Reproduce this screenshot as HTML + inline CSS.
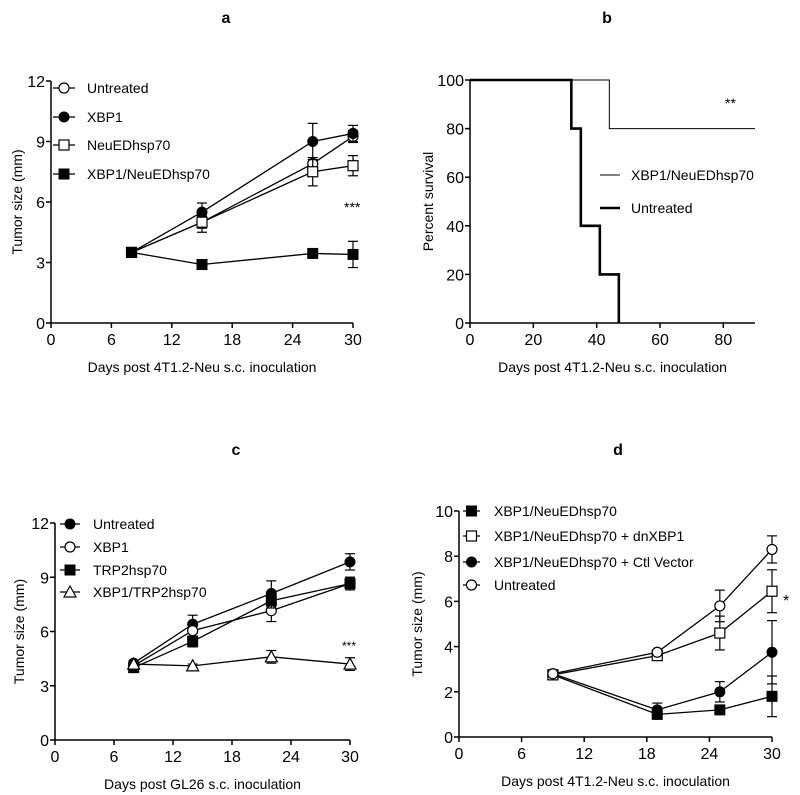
<!DOCTYPE html>
<html><head><meta charset="utf-8"><style>
body{margin:0;background:#fff}
svg{display:block;font-family:"Liberation Sans",Arial,sans-serif}
</style></head><body>
<svg id="fig" width="800" height="795" viewBox="0 0 800 795"></svg>
<script>
// Panel a
const aDays=[8,15,26,30];
const aUntreated=[3.5,5.0,7.9,9.25];
const aUntreatedErr=[0.2,0.3,0.3,0.3];
const aXbp1=[3.5,5.5,9.0,9.4];
const aXbp1Err=[0.2,0.45,0.9,0.4];
const aNeu=[3.5,5.0,7.5,7.8];
const aNeuErr=[0.2,0.5,0.7,0.5];
const aCombo=[3.5,2.9,3.45,3.4];
const aComboErr=[0.2,0.1,0.15,0.65];
const aYTicks=[0,3,6,9,12];
const aXTicks=[0,6,12,18,24,30];
// Panel b
const bTreatedX=[0,44,44,90];
const bTreatedY=[100,100,80,80];
const bUntreatedX=[0,32,32,35,35,41,41,47,47];
const bUntreatedY=[100,100,80,80,40,40,20,20,0];
const bYTicks=[0,20,40,60,80,100];
const bXTicks=[0,20,40,60,80];
// Panel c
const cDays=[8,14,22,30];
const cUntreated=[4.25,6.4,8.1,9.85];
const cUntreatedErr=[0.15,0.5,0.7,0.45];
const cXbp1=[4.1,6.05,7.15,8.65];
const cXbp1Err=[0.15,0.3,0.6,0.35];
const cTrp2=[4.0,5.45,7.7,8.65];
const cTrp2Err=[0.15,0.3,0.4,0.35];
const cCombo=[4.2,4.1,4.6,4.2];
const cComboErr=[0.1,0.1,0.35,0.35];
const cYTicks=[0,3,6,9,12];
const cXTicks=[0,6,12,18,24,30];
// Panel d
const dDays=[9,19,25,30];
const dCombo=[2.75,1.0,1.2,1.8];
const dComboErr=[0.1,0.1,0.1,0.9];
const dDn=[2.75,3.6,4.6,6.45];
const dDnErr=[0.1,0.1,0.75,0.95];
const dCtl=[2.8,1.2,2.0,3.75];
const dCtlErr=[0.1,0.3,0.45,1.4];
const dUntreated=[2.8,3.75,5.8,8.3];
const dUntreatedErr=[0.1,0.1,0.7,0.6];
const dYTicks=[0,2,4,6,8,10];
const dXTicks=[0,6,12,18,24,30];

const NS="http://www.w3.org/2000/svg";
const svg=document.getElementById('fig');
function mk(tag,attrs,parent,text){const e=document.createElementNS(NS,tag);for(const k in attrs)e.setAttribute(k,attrs[k]);if(text!==undefined)e.textContent=text;(parent||svg).appendChild(e);return e;}
function scale(d0,d1,p0,p1){return v=>p0+(v-d0)/(d1-d0)*(p1-p0);}

function axes(g,x,y,xt,yt,xmax,ymax,xlab,ylab,ylabX){
  const x0=x(0),x1=x(xmax),y0=y(0),y1=y(ymax);
  let l=mk('line',{x1:x0,y1:y0,x2:x0,y2:y1,stroke:'#000','stroke-width':1.5},g);
  
  
  l=mk('line',{x1:x0,y1:y0,x2:x1,y2:y0,stroke:'#000','stroke-width':1.5},g);
  
  
  yt.forEach(v=>{mk('line',{x1:x0-5,y1:y(v),x2:x0,y2:y(v),stroke:'#000','stroke-width':1.5},g);
    const t=mk('text',{x:x0-6,y:y(v)+6,'text-anchor':'end','font-size':16},g,v);
    
    });
  xt.forEach(v=>{mk('line',{x1:x(v),y1:y0,x2:x(v),y2:y0+5,stroke:'#000','stroke-width':1.5},g);
    const t=mk('text',{x:x(v),y:y0+22,'text-anchor':'middle','font-size':16},g,v);
    
    });
  let t=mk('text',{x:(x0+x1)/2,y:y0+49,'text-anchor':'middle','font-size':14},g,xlab);
  
  
  const cy=(y0+y1)/2;
  t=mk('text',{x:ylabX,y:cy,'text-anchor':'middle','font-size':14,transform:`rotate(-90 ${ylabX} ${cy})`},g,ylab);
  
  
}
function marker(g,type,cx,cy){
  const r=5;
  if(type==='oc')return mk('circle',{cx,cy,r,fill:'#fff',stroke:'#000','stroke-width':1.2},g);
  if(type==='fc')return mk('circle',{cx,cy,r:5.5,fill:'#000'},g);
  if(type==='os')return mk('rect',{x:cx-5,y:cy-5,width:10,height:10,fill:'#fff',stroke:'#000','stroke-width':1.2},g);
  if(type==='fs')return mk('rect',{x:cx-5.5,y:cy-5.5,width:11,height:11,fill:'#000'},g);
  if(type==='ot')return mk('polygon',{points:`${cx},${cy-6} ${cx-6},${cy+5} ${cx+6},${cy+5}`,fill:'#fff',stroke:'#000','stroke-width':1.2},g);
}
function series(g,name,xs,ys,err,type,x,y){
  const sg=mk('g',{},g);
  
  
  xs.forEach((d,i)=>{const px=x(d),e=err[i];
    mk('line',{x1:px,y1:y(ys[i]-e),x2:px,y2:y(ys[i]+e),stroke:'#000','stroke-width':1.2},sg);
    mk('line',{x1:px-5,y1:y(ys[i]+e),x2:px+5,y2:y(ys[i]+e),stroke:'#000','stroke-width':1.2},sg);
    mk('line',{x1:px-5,y1:y(ys[i]-e),x2:px+5,y2:y(ys[i]-e),stroke:'#000','stroke-width':1.2},sg);});
  mk('polyline',{points:xs.map((d,i)=>x(d)+','+y(ys[i])).join(' '),fill:'none',stroke:'#000','stroke-width':1.3},sg);
  xs.forEach((d,i)=>{const m=marker(sg,type,x(d),y(ys[i]));
    
    });
}
function legend(g,entries,lx0,lx1,tx,ys){
  entries.forEach((en,i)=>{const lg=mk('g',{},g);
    
    
    mk('line',{x1:lx0,y1:ys[i],x2:lx1,y2:ys[i],stroke:'#000','stroke-width':1.3},lg);
    marker(lg,en[1],(lx0+lx1)/2,ys[i]);
    mk('text',{x:tx,y:ys[i]+5,'font-size':14},lg,en[0]);});
}
function title(txt,x,y){const t=mk('text',{x,y,'text-anchor':'middle','font-size':16,'font-weight':'bold'},svg,txt);
  
  }
function note(g,txt,x,y,size){const t=mk('text',{x,y,'font-size':size||14},g,txt);
  
  }

// Panel a
{const g=mk('g',{});
 const x=scale(0,30,51,353),y=scale(0,12,323,81);
 title('a',226,23);
 axes(g,x,y,aXTicks,aYTicks,30,12,'Days post  4T1.2-Neu s.c. inoculation','Tumor size (mm)',22);
 series(g,'untreated-series',aDays,aUntreated,aUntreatedErr,'oc',x,y);
 series(g,'xbp1-series',aDays,aXbp1,aXbp1Err,'fc',x,y);
 series(g,'neuedhsp70-series',aDays,aNeu,aNeuErr,'os',x,y);
 series(g,'xbp1-neuedhsp70-series',aDays,aCombo,aComboErr,'fs',x,y);
 legend(g,[['Untreated','oc'],['XBP1','fc'],['NeuEDhsp70','os'],['XBP1/NeuEDhsp70','fs']],53,75,87,[88,117,145,174]);
 note(g,'***',344,212,14);}

// Panel b
{const g=mk('g',{});
 const x=scale(0,90,470,755),y=scale(0,100,323,80);
 title('b',607,23);
 axes(g,x,y,bXTicks,bYTicks,90,100,'Days post  4T1.2-Neu s.c. inoculation','Percent survival',433);
 let p=mk('polyline',{points:bTreatedX.map((d,i)=>x(d)+','+y(bTreatedY[i])).join(' '),fill:'none',stroke:'#000','stroke-width':1},g);
 
 p=mk('polyline',{points:bUntreatedX.map((d,i)=>x(d)+','+y(bUntreatedY[i])).join(' '),fill:'none',stroke:'#000','stroke-width':2.6},g);
 
 let lg=mk('g',{},g);
 mk('line',{x1:600,y1:175,x2:620,y2:175,stroke:'#000','stroke-width':1},lg);
 mk('text',{x:631,y:180,'font-size':14},lg,'XBP1/NeuEDhsp70');
 lg=mk('g',{},g);
 mk('line',{x1:600,y1:208,x2:620,y2:208,stroke:'#000','stroke-width':2.6},lg);
 mk('text',{x:631,y:213,'font-size':14},lg,'Untreated');
 note(g,'**',725,108,14);}

// Panel c
{const g=mk('g',{});
 const x=scale(0,30,55,350),y=scale(0,12,740,523);
 title('c',236,455);
 axes(g,x,y,cXTicks,cYTicks,30,12,'Days post  GL26 s.c. inoculation','Tumor size (mm)',24);
 series(g,'untreated-series',cDays,cUntreated,cUntreatedErr,'fc',x,y);
 series(g,'xbp1-series',cDays,cXbp1,cXbp1Err,'oc',x,y);
 series(g,'trp2hsp70-series',cDays,cTrp2,cTrp2Err,'fs',x,y);
 series(g,'xbp1-trp2hsp70-series',cDays,cCombo,cComboErr,'ot',x,y);
 legend(g,[[' Untreated','fc'],[' XBP1','oc'],['TRP2hsp70','fs'],['XBP1/TRP2hsp70','ot']],60,80,93,[524,547,570,592]);
 note(g,'***',342,650,12);}

// Panel d
{const g=mk('g',{});
 const x=scale(0,30,459,772),y=scale(0,10,737,511);
 title('d',618,455);
 axes(g,x,y,dXTicks,dYTicks,30,10,'Days post  4T1.2-Neu s.c. inoculation','Tumor size (mm)',422);
 series(g,'xbp1-neuedhsp70-series',dDays,dCombo,dComboErr,'fs',x,y);
 series(g,'dnxbp1-series',dDays,dDn,dDnErr,'os',x,y);
 series(g,'ctl-vector-series',dDays,dCtl,dCtlErr,'fc',x,y);
 series(g,'untreated-series',dDays,dUntreated,dUntreatedErr,'oc',x,y);
 legend(g,[['XBP1/NeuEDhsp70','fs'],['XBP1/NeuEDhsp70 + dnXBP1','os'],['XBP1/NeuEDhsp70 + Ctl Vector','fc'],['Untreated','oc']],463,480,494,[511,536,562,585]);
 note(g,'*',783,606,16);}
</script>
</body></html>
